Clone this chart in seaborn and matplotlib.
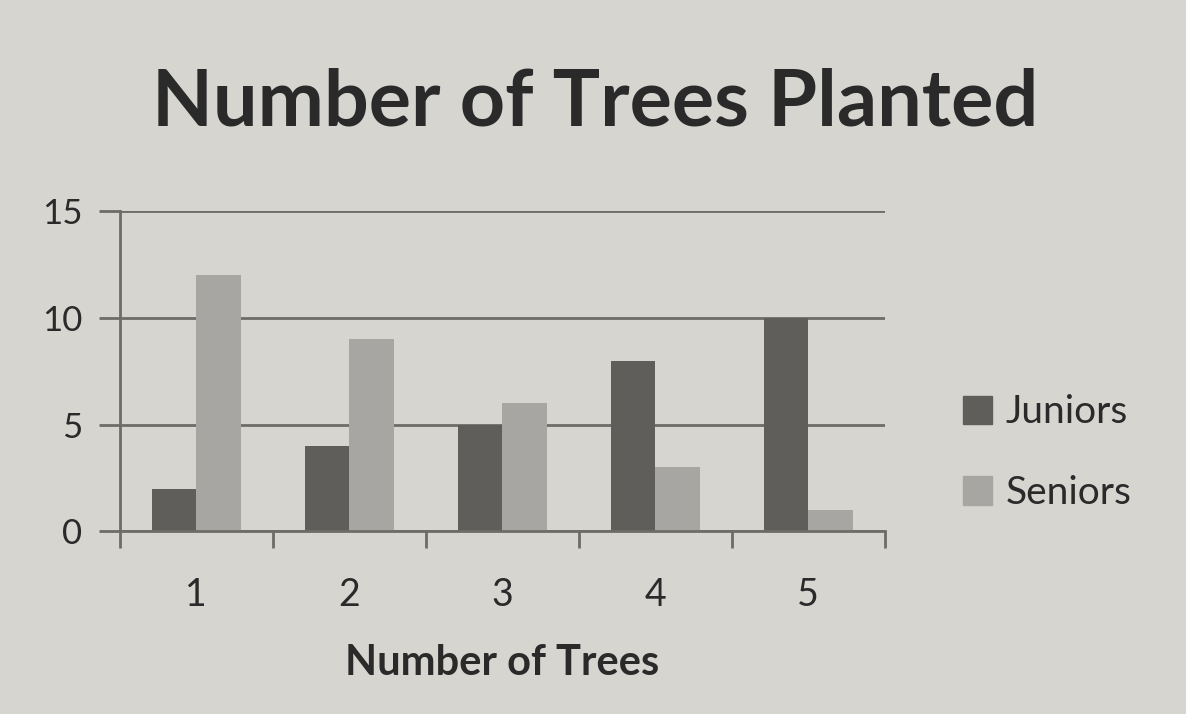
import pandas as pd
import matplotlib.pyplot as plt
import seaborn as sns
from matplotlib.patches import Patch

# данные
trees = ['1', '2', '3', '4', '5']
juniors = [2, 4, 5, 8, 10]
seniors = [12, 9, 6, 3, 1]

df = pd.DataFrame({
    'trees': trees * 2,
    'count': juniors + seniors,
    'group': ['Juniors'] * len(trees) + ['Seniors'] * len(trees),
})

bg = '#d7d5d0'
dark = '#605e5a'
light = '#a8a6a2'
line_c = '#6e6c68'
text_c = '#2a2a2a'

sns.set_style('white')
plt.rcParams['font.family'] = ['Lato', 'DejaVu Sans']

fig = plt.figure(figsize=(11.86, 7.14), dpi=100, facecolor=bg)
ax = fig.add_axes([0.101, 0.256, 0.645, 0.448])
ax.set_facecolor(bg)

sns.barplot(data=df, x='trees', y='count', hue='group',
            palette={'Juniors': dark, 'Seniors': light},
            width=0.58, gap=0, saturation=1, ax=ax, legend=False,
            linewidth=0, edgecolor='none')

ax.set_ylim(0, 15)
ax.set_xlim(-0.5, 4.5)
ax.set_yticks([0, 5, 10, 15])
ax.yaxis.grid(True, color=line_c, linewidth=2)
ax.set_axisbelow(True)

# тики между группами
ax.set_xticks([i - 0.5 for i in range(6)], minor=True)
ax.tick_params(axis='x', which='minor', bottom=True, length=12, width=2,
               color=line_c, direction='out')
ax.tick_params(axis='x', which='major', length=0, labelsize=27,
               labelcolor=text_c, pad=33)
ax.tick_params(axis='y', left=True, length=15, width=2, color=line_c,
               direction='out', labelsize=25, labelcolor=text_c, pad=12)

for side in ['top', 'right']:
    ax.spines[side].set_visible(False)
for side in ['left', 'bottom']:
    ax.spines[side].set_color(line_c)
    ax.spines[side].set_linewidth(2)

ax.set_xlabel('Number of Trees', fontsize=30, fontweight='bold', color=text_c, labelpad=22)
ax.set_ylabel('')

fig.text(0.502, 0.855, 'Number of Trees Planted', ha='center', va='center',
         fontsize=57, fontweight='bold', color=text_c)

handles = [Patch(color=dark, label='Juniors'), Patch(color=light, label='Seniors')]
fig.legend(handles=handles, loc='center left', bbox_to_anchor=(0.812, 0.366),
           frameon=False, fontsize=28, handlelength=0.75, handleheight=0.75,
           handletextpad=0.35, labelspacing=1.15, labelcolor=text_c,
           borderpad=0, borderaxespad=0)

plt.savefig('out.png', dpi=100, facecolor=bg)
